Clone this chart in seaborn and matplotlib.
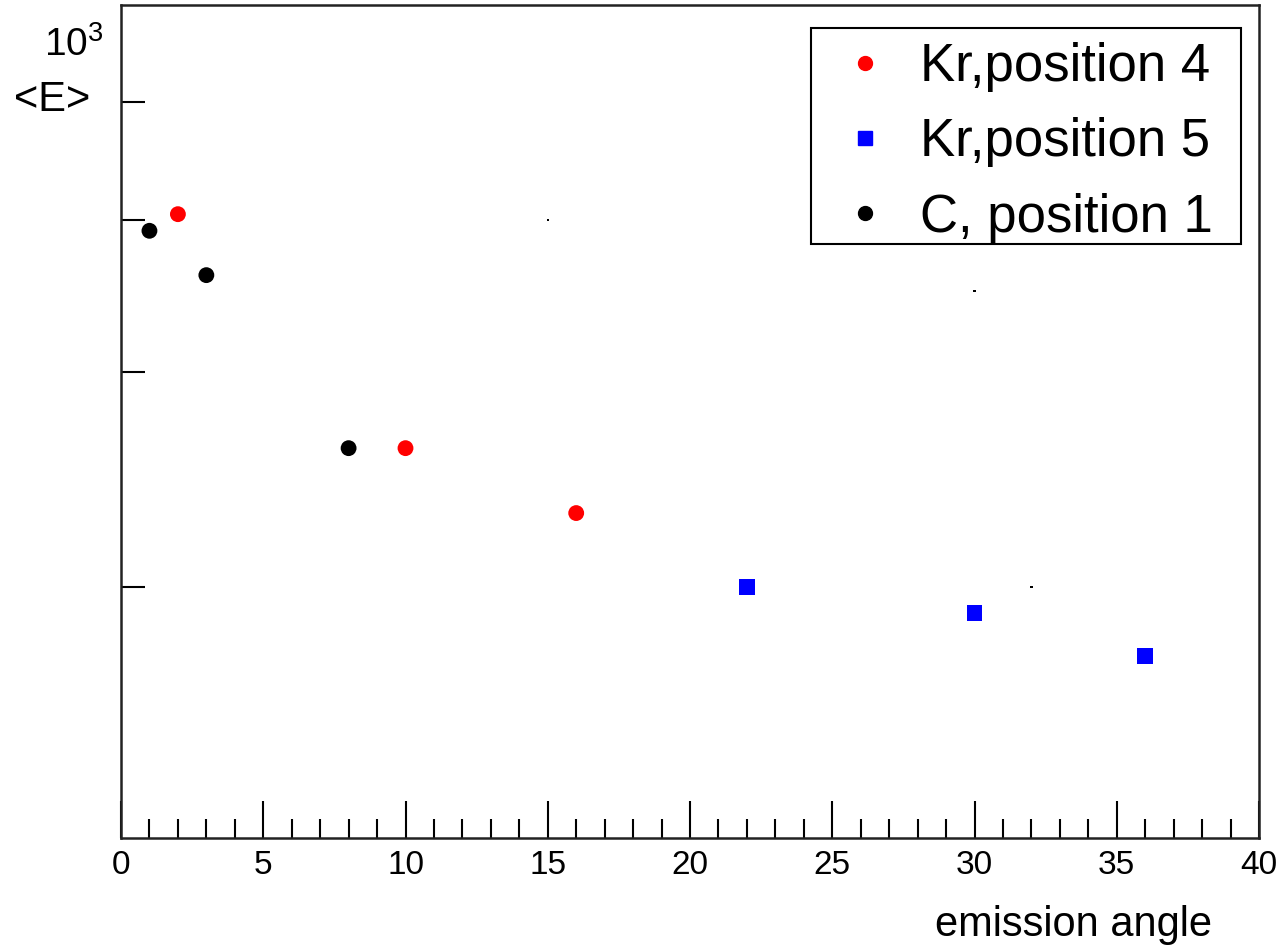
import matplotlib
matplotlib.use("Agg")
import matplotlib.pyplot as plt
import seaborn as sns
import pandas as pd
import numpy as np
from matplotlib.ticker import FixedLocator, MultipleLocator, NullFormatter, NullLocator
from matplotlib.lines import Line2D
from matplotlib.patches import Rectangle

# ---- data ----
kr4_angle = [2, 10, 16]
kr4_E = [809, 520, 460]
kr5_angle = [22, 30, 36]
kr5_E = [400, 381, 351]
c1_angle = [1, 3, 8]
c1_E = [784, 721, 520]
stray_angle = [15, 30, 32]
stray_E = [800, 700, 400]
labels = ["Kr,position 4", "Kr,position 5", "C, position 1"]
x_ticks = [0, 5, 10, 15, 20, 25, 30, 35, 40]
y_ticks = [400, 600, 800, 1000]

sns.set_theme(style="white")
plt.rcParams['font.family'] = ['Liberation Sans', 'DejaVu Sans']
plt.rcParams['mathtext.fontset'] = 'custom'
plt.rcParams['mathtext.rm'] = 'Liberation Sans'
for k in ['text.color', 'axes.labelcolor', 'xtick.color', 'ytick.color']:
    plt.rcParams[k] = 'black'

W, H = 1282, 947
fig = plt.figure(figsize=(W/100, H/100), dpi=100)
AX_L, AX_R, AX_T, AX_B = 121, 1259, 5, 838
ax = fig.add_axes([AX_L/W, 1 - AX_B/H, (AX_R-AX_L)/W, (AX_B-AX_T)/H])

def axfrac(px, py):
    return ((px - AX_L) / (AX_R - AX_L), 1 - (py - AX_T) / (AX_B - AX_T))

df = pd.concat([
    pd.DataFrame({"angle": kr4_angle, "E": kr4_E, "series": labels[0]}),
    pd.DataFrame({"angle": kr5_angle, "E": kr5_E, "series": labels[1]}),
    pd.DataFrame({"angle": c1_angle, "E": c1_E, "series": labels[2]}),
])
palette = {labels[0]: "#ff0000", labels[1]: "#0000ff", labels[2]: "#000000"}
markers = {labels[0]: "o", labels[1]: "s", labels[2]: "o"}
sns.scatterplot(data=df, x="angle", y="E", hue="series", style="series",
                palette=palette, markers=markers, s=130, edgecolor="none",
                legend=False, ax=ax, zorder=3)
sns.scatterplot(x=stray_angle, y=stray_E, color="black", s=3, edgecolor="none",
                marker="s", legend=False, ax=ax)

ax.set_yscale("log")
ax.set_xlim(0, 40)
ax.set_ylim(249, 1201)
ax.set_xlabel("")
ax.set_ylabel("")

ax.xaxis.set_major_locator(FixedLocator(x_ticks))
ax.xaxis.set_minor_locator(MultipleLocator(1))
ax.yaxis.set_major_locator(FixedLocator(y_ticks))
ax.yaxis.set_minor_locator(NullLocator())
ax.yaxis.set_major_formatter(NullFormatter())
ax.yaxis.set_minor_formatter(NullFormatter())
ax.set_xticklabels([str(t) for t in x_ticks])

ax.tick_params(axis="x", which="major", direction="in", length=27, width=1.5,
               labelsize=24, pad=9, colors="black", bottom=True, top=False)
ax.tick_params(axis="x", which="minor", direction="in", length=14, width=1.5,
               bottom=True, top=False, colors="black")
ax.tick_params(axis="y", which="major", direction="in", length=17, width=1.5,
               left=True, right=False, colors="black")
for sp in ax.spines.values():
    sp.set_color("#222222")
    sp.set_linewidth(1.8)

# legend box
bx0, by0 = axfrac(811, 244)
bx1, by1 = axfrac(1241, 28)
ax.add_patch(Rectangle((bx0, by0), bx1 - bx0, by1 - by0, transform=ax.transAxes,
                       facecolor="white", edgecolor="black", linewidth=1.5, zorder=4))

handles = [
    Line2D([], [], ls="none", marker="o", color="#ff0000", markersize=10),
    Line2D([], [], ls="none", marker="s", color="#0000ff", markersize=9.5),
    Line2D([], [], ls="none", marker="o", color="#000000", markersize=10),
]
leg = ax.legend(handles, labels, loc="upper left",
                bbox_to_anchor=axfrac(830, 42),
                fontsize=38, frameon=False,
                borderpad=0, labelspacing=0.48, handletextpad=0.36,
                handlelength=1.34, borderaxespad=0)
leg.set_zorder(5)

fig.text(1212/W, 1 - 925/H, "emission angle", fontsize=30, ha="right", va="center")
fig.text(52/W, 1 - 100/H, "<E>", fontsize=30, ha="center", va="center")
fig.text(74/W, 1 - 45/H, r"$\mathregular{10^3}$", fontsize=28, ha="center", va="center")

fig.savefig("out.png", dpi=100)
